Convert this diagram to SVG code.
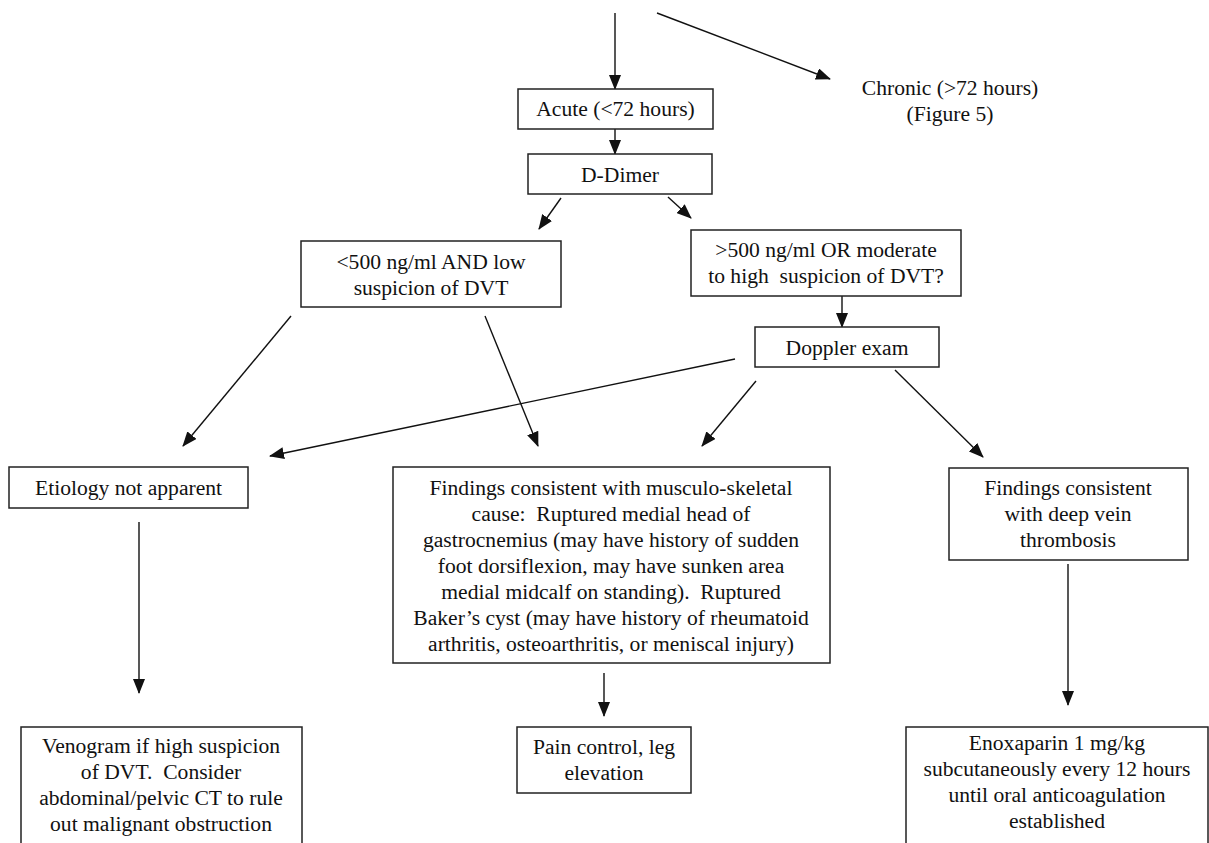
<svg xmlns="http://www.w3.org/2000/svg" width="1209" height="843" viewBox="0 0 1209 843">
<defs>
<marker id="ah" markerUnits="userSpaceOnUse" markerWidth="15" markerHeight="12" viewBox="0 0 15 12" refX="14" refY="6" orient="auto">
<path d="M0,0 L15,6 L0,12 Z" fill="#111"/>
</marker>
</defs>
<style>
.box{fill:#fff;stroke:#222;stroke-width:1.5}
.t{font-family:"Liberation Serif","Times New Roman",serif;font-size:21.6px;fill:#111;text-anchor:middle}
.c{fill:none;stroke:#111;stroke-width:1.4;marker-end:url(#ah)}
</style>
<rect width="1209" height="843" fill="#fff"/>
<g id="connectors">
<line class="c" x1="615" y1="13" x2="615" y2="89"/>
<line class="c" x1="657" y1="13" x2="830" y2="79"/>
<line class="c" x1="615" y1="129" x2="615" y2="154"/>
<line class="c" x1="561" y1="198" x2="539" y2="229"/>
<line class="c" x1="668" y1="197" x2="691" y2="218"/>
<line class="c" x1="842" y1="296" x2="842" y2="327"/>
<line class="c" x1="291" y1="316" x2="183" y2="446"/>
<line class="c" x1="485" y1="316" x2="538" y2="446"/>
<line class="c" x1="735" y1="359" x2="270" y2="456"/>
<line class="c" x1="756" y1="381" x2="702" y2="446"/>
<line class="c" x1="895" y1="370" x2="983" y2="457"/>
<line class="c" x1="139" y1="522" x2="139" y2="693"/>
<line class="c" x1="604" y1="673" x2="604" y2="716"/>
<line class="c" x1="1068" y1="564" x2="1068" y2="705"/>
</g>
<g id="chronic">
<text class="t" x="950" y="95">Chronic (&gt;72 hours)</text>
<text class="t" x="950" y="121">(Figure 5)</text>
</g>
<g id="acute">
<rect class="box" x="518" y="89" width="195" height="40"/>
<text class="t" x="615.5" y="116">Acute (&lt;72 hours)</text>
</g>
<g id="ddimer">
<rect class="box" x="528" y="154" width="184" height="40"/>
<text class="t" x="620" y="182">D-Dimer</text>
</g>
<g id="low">
<rect class="box" x="301" y="241" width="260" height="66"/>
<text class="t" x="431" y="269">&lt;500 ng/ml AND low</text>
<text class="t" x="431" y="295">suspicion of DVT</text>
</g>
<g id="high">
<rect class="box" x="691" y="230" width="270" height="66"/>
<text class="t" x="826" y="257">&gt;500 ng/ml OR moderate</text>
<text class="t" x="826" y="283" xml:space="preserve">to high  suspicion of DVT?</text>
</g>
<g id="doppler">
<rect class="box" x="755" y="327" width="184" height="40"/>
<text class="t" x="847" y="355">Doppler exam</text>
</g>
<g id="etiology">
<rect class="box" x="9" y="467" width="239" height="41"/>
<text class="t" x="128.5" y="495">Etiology not apparent</text>
</g>
<g id="musculo">
<rect class="box" x="393" y="467" width="437" height="196"/>
<text class="t" x="611" y="495">Findings consistent with musculo-skeletal</text>
<text class="t" x="611" y="521" xml:space="preserve">cause:  Ruptured medial head of</text>
<text class="t" x="611" y="547">gastrocnemius (may have history of sudden</text>
<text class="t" x="611" y="573">foot dorsiflexion, may have sunken area</text>
<text class="t" x="611" y="599" xml:space="preserve">medial midcalf on standing).  Ruptured</text>
<text class="t" x="611" y="625">Baker’s cyst (may have history of rheumatoid</text>
<text class="t" x="611" y="651">arthritis, osteoarthritis, or meniscal injury)</text>
</g>
<g id="dvt">
<rect class="box" x="949" y="468" width="239" height="92"/>
<text class="t" x="1068" y="495">Findings consistent</text>
<text class="t" x="1068" y="521">with deep vein</text>
<text class="t" x="1068" y="547">thrombosis</text>
</g>
<g id="venogram">
<rect class="box" x="21" y="727" width="281" height="130"/>
<text class="t" x="161" y="753">Venogram if high suspicion</text>
<text class="t" x="161" y="779" xml:space="preserve">of DVT.  Consider</text>
<text class="t" x="161" y="805">abdominal/pelvic CT to rule</text>
<text class="t" x="161" y="831">out malignant obstruction</text>
</g>
<g id="pain">
<rect class="box" x="517" y="727" width="174" height="66"/>
<text class="t" x="604" y="754">Pain control, leg</text>
<text class="t" x="604" y="780">elevation</text>
</g>
<g id="enoxaparin">
<rect class="box" x="906" y="727" width="302" height="130"/>
<text class="t" x="1057" y="750">Enoxaparin 1 mg/kg</text>
<text class="t" x="1057" y="776">subcutaneously every 12 hours</text>
<text class="t" x="1057" y="802">until oral anticoagulation</text>
<text class="t" x="1057" y="828">established</text>
</g>
</svg>
